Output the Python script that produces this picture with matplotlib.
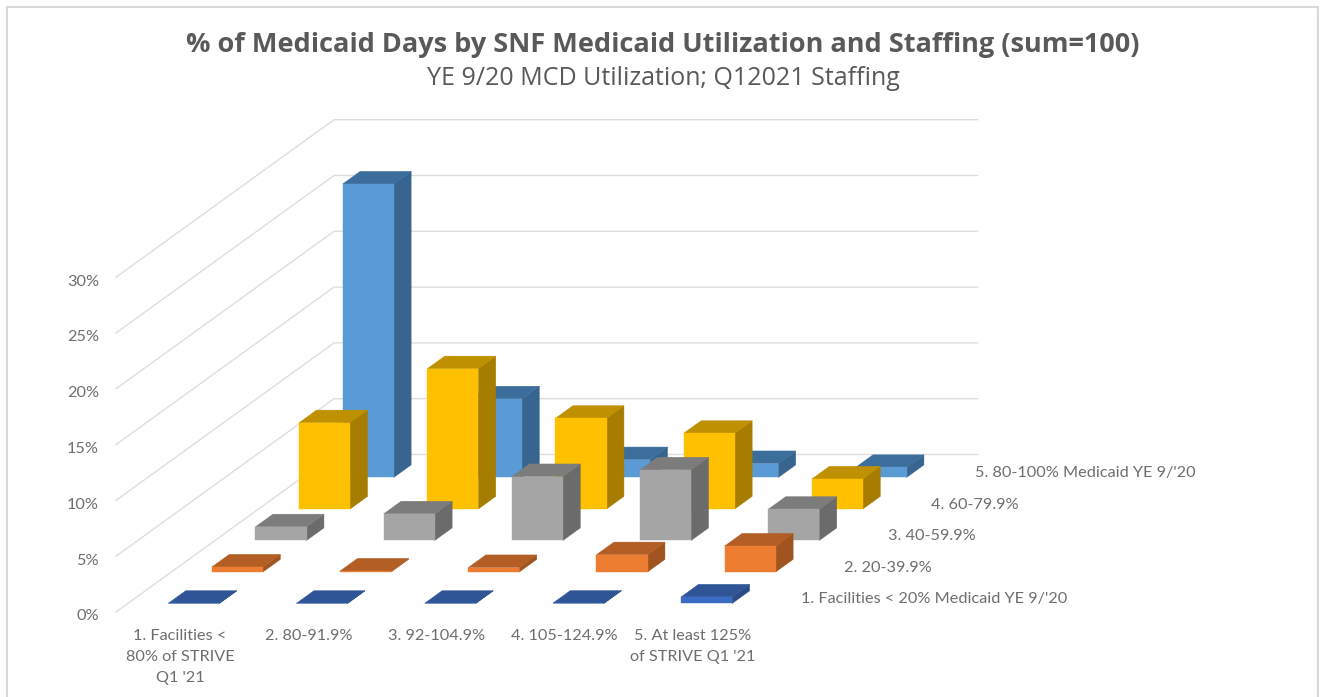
import matplotlib
matplotlib.use("Agg")
import matplotlib.pyplot as plt
from matplotlib.patches import Polygon, Rectangle

TITLE = "% of Medicaid Days by SNF Medicaid Utilization and Staffing (sum=100)"
SUBTITLE = "YE 9/20 MCD Utilization; Q12021 Staffing"

staffing = ["1. Facilities <\n80% of STRIVE\nQ1 '21", "2. 80-91.9%", "3. 92-104.9%",
            "4. 105-124.9%", "5. At least 125%\nof STRIVE Q1 '21"]
utilization = ["1. Facilities < 20% Medicaid YE 9/'20", "2. 20-39.9%", "3. 40-59.9%",
               "4. 60-79.9%", "5. 80-100% Medicaid YE 9/'20"]
y_ticks = [0, 5, 10, 15, 20, 25, 30]

util_1 = [0.02, 0.02, 0.02, 0.03, 0.59]
util_2 = [0.45, 0.09, 0.40, 1.55, 2.33]
util_3 = [1.23, 2.39, 5.73, 6.33, 2.80]
util_4 = [7.73, 12.57, 8.13, 6.78, 2.69]
util_5 = [26.3, 7.05, 1.60, 1.25, 0.90]
series = [util_1, util_2, util_3, util_4, util_5]

# (front, top, side)
shades = [("#3A6BC5", "#2F5597", "#2A4C88"),
          ("#ED7D31", "#B25E25", "#A05420"),
          ("#A5A5A5", "#7C7C7C", "#6B6B6B"),
          ("#FFC000", "#BF9000", "#A67D00"),
          ("#5B9BD5", "#3C6E9C", "#37658F")]

W, H = 1324, 697
PX_X, PX_Y = 128.2, 55.8 / 5      # pixels per category / per percent
X0, Y0 = 116, 612                 # pixel of the front-left floor corner
DX, DY = 43.6 / PX_X, 31.5 / PX_Y  # oblique shift per depth row, in data units
N_ROW, N_COL = len(series), len(staffing)
BAR_L, BAR_W = 0.316, 0.398
BAR_F, BAR_D = 0.27, 0.40

GRID = "#DEDEDE"
TXT = "#6E6E6E"
FONT = ["Open Sans", "DejaVu Sans"]
LAB = ["Lato", "DejaVu Sans"]
LAB_SIZE = 11.7

fig = plt.figure(figsize=(W / 100, H / 100), dpi=100, facecolor="white")
ax = fig.add_axes([0, 0, 1, 1])
ax.set_xlim(-X0 / PX_X, (W - X0) / PX_X)
ax.set_ylim((Y0 - H) / PX_Y, Y0 / PX_Y)
ax.axis("off")


def P(col, depth, value):
    return (col + depth * DX, value + depth * DY)


def px(x, y):
    return ((x - X0) / PX_X, (Y0 - y) / PX_Y)


# chart frame
fx, fy = px(7, 7)
fx2, fy2 = px(1318, 720)
ax.add_patch(Rectangle((fx, fy2), fx2 - fx, fy - fy2, fill=False, ec="#D9D9D9", lw=1.5, zorder=0))

# walls
grid_right = N_COL + 0.02
for v in y_ticks:
    ax.plot(*zip(P(0, 0, v), P(0, N_ROW, v), P(grid_right, N_ROW, v)), color=GRID, lw=1.0, zorder=1)
    x, y = P(0, 0, v)
    ax.text(x - 17 / PX_X, y - 4.5 / PX_Y, f"{v}%", ha="right", va="center", fontsize=LAB_SIZE,
            color=TXT, family=LAB)

# bars, back row first
z = 2
for r in range(N_ROW - 1, -1, -1):
    front, top, side = shades[r]
    for c in range(N_COL):
        v = series[r][c]
        l, w = c + BAR_L, BAR_W
        d0, d1 = r + BAR_F, r + BAR_F + BAR_D
        ax.add_patch(Polygon([P(l + w, d0, 0), P(l + w, d1, 0), P(l + w, d1, v), P(l + w, d0, v)],
                             fc=side, ec=side, lw=0.3, zorder=z))
        ax.add_patch(Polygon([P(l, d0, v), P(l + w, d0, v), P(l + w, d1, v), P(l, d1, v)],
                             fc=top, ec=top, lw=0.3, zorder=z))
        ax.add_patch(Rectangle(P(l, d0, 0), w, v, fc=front, ec=front, lw=0.3, zorder=z))
    z += 1

# category labels
for c, lab in enumerate(staffing):
    x, _ = P(c + 0.5, 0, 0)
    _, y = px(0, 629)
    ax.text(x, y, lab, ha="center", va="top", fontsize=LAB_SIZE, color=TXT, family=LAB, linespacing=1.65)

# depth labels
for r, lab in enumerate(utilization):
    x, _ = P(N_COL, r + 1, 0)
    _, y = P(N_COL, r + 0.5, 0)
    ax.text(x, y - 3 / PX_Y, lab, ha="left", va="center", fontsize=LAB_SIZE, color=TXT, family=LAB)

# titles
tx, ty = px(662.5, 45)
ax.text(tx, ty, TITLE, ha="center", va="center", fontsize=19.5, fontweight="bold", color="#595959", family=FONT)
tx, ty = px(663, 79)
ax.text(tx, ty, SUBTITLE, ha="center", va="center", fontsize=18, color="#595959", family=FONT)

fig.savefig("out.png", dpi=100)
